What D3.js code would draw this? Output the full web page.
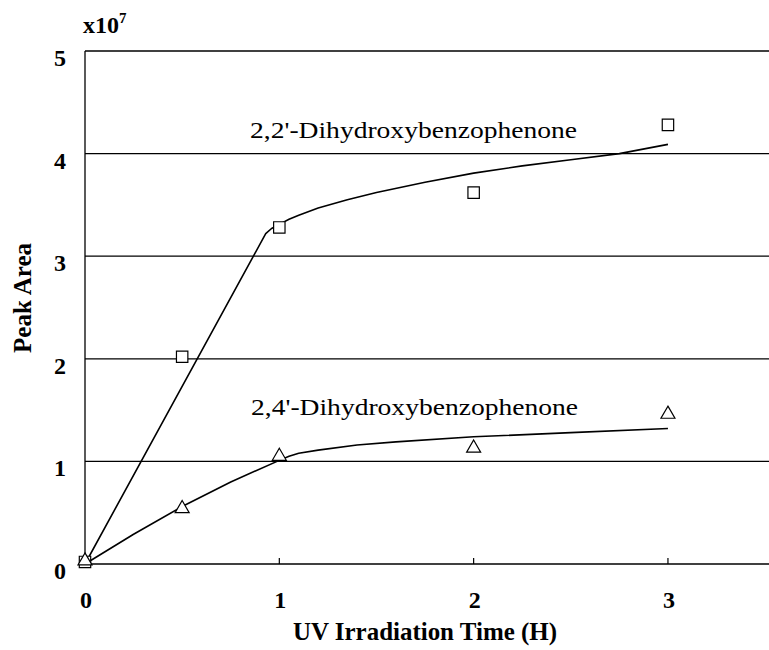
<!DOCTYPE html>
<html>
<head>
	<meta charset="utf-8"/>
	<script src="https://d3js.org/d3.v7.min.js" charset="utf-8"></script>
	<style>
		body{margin:0;background:#fff;}
		text{font-family:"Liberation Serif","Times New Roman",serif;fill:#000;}
		.b{font-weight:bold;}
	</style>
</head>
<body>
<script>
// measured points
var times = [0, 0.5, 1, 2, 3];
var dhbp22 = [0.02, 2.02, 3.28, 3.62, 4.28];
var dhbp24 = [0.03, 0.54, 1.05, 1.13, 1.46];

// fitted curves
var fit22x = [0, 0.93, 0.96, 1.0, 1.05, 1.1, 1.2, 1.35, 1.5, 1.75, 2, 2.25, 2.5, 2.75, 3];
var fit22y = [0, 3.22, 3.27, 3.31, 3.36, 3.40, 3.47, 3.55, 3.62, 3.72, 3.81, 3.88, 3.94, 4.0, 4.09];
var fit24x = [0, 0.25, 0.5, 0.75, 1, 1.05, 1.1, 1.2, 1.4, 1.6, 2, 2.5, 3];
var fit24y = [0, 0.29, 0.56, 0.8, 1.01, 1.05, 1.08, 1.11, 1.16, 1.19, 1.24, 1.28, 1.32];

var yTicks = [0, 1, 2, 3, 4, 5];
var xTicks = [0, 1, 2, 3];

var W = 769, H = 650;
var svg = d3.select('body').append('svg')
	.attr('width', W)
	.attr('height', H);

var x = d3.scaleLinear().domain([0, 3.52]).range([85, 769]);
var y = d3.scaleLinear().domain([0, 5]).range([564, 51]);

// gridlines
svg.selectAll('line.grid').data(yTicks.slice(1))
	.enter().append('line')
	.attr('class', 'grid')
	.attr('x1', x(0)).attr('x2', W)
	.attr('y1', function(d){return y(d);})
	.attr('y2', function(d){return y(d);})
	.attr('stroke', '#000').attr('stroke-width', 1.3);

// axes
svg.append('line').attr('x1', x(0)).attr('x2', x(0)).attr('y1', y(0)).attr('y2', y(5))
	.attr('stroke', '#000').attr('stroke-width', 1.3);
svg.append('line').attr('x1', x(0)).attr('x2', W).attr('y1', y(0)).attr('y2', y(0))
	.attr('stroke', '#000').attr('stroke-width', 1.3);

// x tick marks pointing inward
svg.selectAll('line.xt').data(xTicks.slice(1))
	.enter().append('line')
	.attr('class', 'xt')
	.attr('x1', function(d){return x(d);}).attr('x2', function(d){return x(d);})
	.attr('y1', y(0)).attr('y2', y(0) - 6)
	.attr('stroke', '#000').attr('stroke-width', 1.2);

// tick labels
svg.selectAll('text.yl').data(yTicks)
	.enter().append('text')
	.attr('class', 'yl b')
	.attr('x', 66)
	.attr('y', function(d){return y(d) + 15;})
	.attr('text-anchor', 'end')
	.style('font-size', '24px')
	.text(function(d){return d;});

svg.selectAll('text.xl').data(xTicks)
	.enter().append('text')
	.attr('class', 'xl b')
	.attr('x', function(d){return x(d) + 1;})
	.attr('y', 608)
	.attr('text-anchor', 'middle')
	.style('font-size', '24px')
	.text(function(d){return d;});

// multiplier
var mult = svg.append('text').attr('class', 'b').attr('x', 83).attr('y', 33).style('font-size', '24px');
mult.append('tspan').text('x10');
mult.append('tspan').attr('dy', -10).style('font-size', '15px').text('7');

// axis titles
svg.append('text')
	.attr('class', 'b')
	.attr('x', 425).attr('y', 640)
	.attr('text-anchor', 'middle')
	.attr('textLength', 264).attr('lengthAdjust', 'spacingAndGlyphs')
	.style('font-size', '24.5px')
	.text('UV Irradiation Time (H)');

svg.append('text')
	.attr('class', 'b')
	.attr('transform', 'translate(31,298) rotate(-90)')
	.attr('text-anchor', 'middle')
	.attr('textLength', 110).attr('lengthAdjust', 'spacingAndGlyphs')
	.style('font-size', '24.5px')
	.text('Peak Area');

// fitted curves
var line = d3.line()
	.x(function(d){return x(d[0]);})
	.y(function(d){return y(d[1]);});

svg.append('path')
	.attr('d', line(d3.zip(fit22x, fit22y)))
	.attr('fill', 'none').attr('stroke', '#000').attr('stroke-width', 1.6)
	.attr('stroke-linejoin', 'round');
svg.append('path')
	.attr('d', line(d3.zip(fit24x, fit24y)))
	.attr('fill', 'none').attr('stroke', '#000').attr('stroke-width', 1.6)
	.attr('stroke-linejoin', 'round');

// markers
var sq = d3.symbol().type(d3.symbolSquare).size(130);
var tri = d3.symbol().type(d3.symbolTriangle).size(85);

svg.selectAll('path.sq').data(d3.zip(times, dhbp22))
	.enter().append('path')
	.attr('class', 'sq')
	.attr('d', sq)
	.attr('transform', function(d){return 'translate(' + x(d[0]) + ',' + y(d[1]) + ')';})
	.attr('fill', '#fff').attr('stroke', '#000').attr('stroke-width', 1.2);

svg.selectAll('path.tri').data(d3.zip(times, dhbp24))
	.enter().append('path')
	.attr('class', 'tri')
	.attr('d', tri)
	.attr('transform', function(d){return 'translate(' + x(d[0]) + ',' + y(d[1]) + ')';})
	.attr('fill', '#fff').attr('stroke', '#000').attr('stroke-width', 1.2);

// series labels
svg.append('text')
	.attr('x', 250).attr('y', 138)
	.attr('textLength', 327).attr('lengthAdjust', 'spacingAndGlyphs')
	.style('font-size', '24px')
	.text("2,2'-Dihydroxybenzophenone");
svg.append('text')
	.attr('x', 251).attr('y', 415)
	.attr('textLength', 327).attr('lengthAdjust', 'spacingAndGlyphs')
	.style('font-size', '24px')
	.text("2,4'-Dihydroxybenzophenone");
</script>
</body>
</html>
